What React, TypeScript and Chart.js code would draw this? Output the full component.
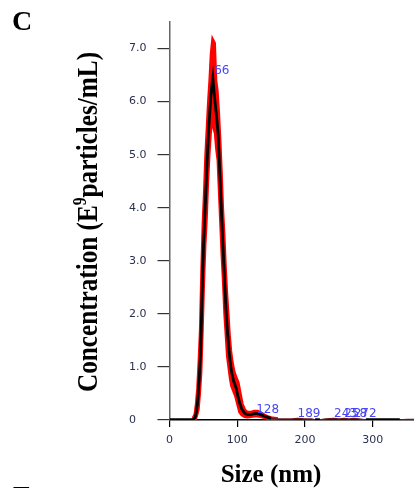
import React, { useEffect, useRef } from "react";
import { Chart, registerables } from "chart.js";

Chart.register(...registerables);

// ---- data ----
const meanSizes = [0, 5, 10, 15, 20, 25, 30, 35, 38, 40, 42, 44, 46, 48, 50, 52, 54, 56, 58, 60, 62, 64, 66, 68, 70, 72, 74, 76, 78, 80, 82, 84, 86, 88, 90, 92, 95, 98, 101, 104, 107, 111, 115, 120, 125, 130, 135, 140, 145, 150, 160, 170, 180, 189, 200, 210, 215, 222, 230, 243, 250, 258, 265, 272, 280, 290, 300, 310, 320, 330, 340, 350, 361];
const meanValues = [0, 0, 0, 0, 0, 0, 0, 0, 0.05, 0.18, 0.4, 0.8, 1.3, 2.3, 3.2, 3.8, 4.4, 5.0, 5.5, 5.9, 6.25, 6.45, 6.15, 5.9, 5.65, 5.35, 4.75, 4.15, 3.55, 3.0, 2.45, 1.95, 1.6, 1.3, 1.05, 0.88, 0.72, 0.62, 0.45, 0.3, 0.2, 0.13, 0.1, 0.1, 0.12, 0.12, 0.1, 0.07, 0.05, 0.03, 0.02, 0.02, 0.02, 0.03, 0.02, 0.02, 0, 0, 0.02, 0.03, 0.02, 0.03, 0.02, 0.03, 0.02, 0, 0, 0, 0, 0, 0, 0.01, 0.01];

const bandSizes = [35, 38, 40, 42, 44, 46, 48, 50, 52, 54, 56, 58, 60, 62, 64, 66, 68, 70, 72, 74, 76, 78, 80, 82, 84, 86, 88, 90, 92, 95, 98, 101, 104, 107, 111, 115, 120, 125, 130, 135, 140, 145, 150, 160];
const bandUpper = [0.03, 0.1, 0.3, 0.6, 1.1, 1.7, 2.8, 3.7, 4.3, 5.0, 5.5, 6.0, 6.4, 6.9, 7.15, 7.1, 6.4, 6.2, 5.8, 5.3, 4.7, 4.0, 3.5, 2.9, 2.4, 2.0, 1.6, 1.3, 1.1, 0.9, 0.8, 0.7, 0.5, 0.3, 0.18, 0.14, 0.14, 0.16, 0.16, 0.13, 0.09, 0.06, 0.04, 0.02];
const bandLower = [0, 0.02, 0.1, 0.2, 0.5, 0.9, 1.7, 2.6, 3.3, 3.8, 4.5, 5.0, 5.4, 5.7, 5.8, 5.5, 5.4, 5.1, 4.9, 4.3, 3.7, 3.1, 2.6, 2.0, 1.6, 1.2, 1.0, 0.8, 0.65, 0.55, 0.45, 0.3, 0.15, 0.1, 0.07, 0.06, 0.07, 0.08, 0.08, 0.07, 0.05, 0.03, 0.02, 0.01];

const peakSizes = [66, 128, 189, 243, 258, 272];
const peakLabelHeights = [6.52, 0.13, 0.06, 0.06, 0.06, 0.06];

const xTicks = [0, 100, 200, 300];
const yTicks = [0, 1, 2, 3, 4, 5, 6, 7];

const panelLetter = "C";
const nextPanelLetter = "E";
const xTitle = "Size (nm)";
const yTitleBefore = "Concentration (E";
const yTitleSup = "9";
const yTitleAfter = "particles/mL)";

const toPoints = (xs: number[], ys: number[]) => xs.map((x, i) => ({ x, y: ys[i] }));

const decorations = {
  id: "decorations",
  afterDraw(chart: any) {
    const ctx = chart.ctx as CanvasRenderingContext2D;
    const xs = chart.scales.x;
    const ys = chart.scales.y;
    ctx.save();
    // peak labels
    ctx.font = '12px "DejaVu Sans"';
    ctx.fillStyle = "#4646f5";
    ctx.textAlign = "left";
    ctx.textBaseline = "alphabetic";
    peakSizes.forEach((s, i) => {
      ctx.fillText(String(s), xs.getPixelForValue(s), ys.getPixelForValue(peakLabelHeights[i]));
    });

    // panel letters
    ctx.fillStyle = "#000";
    ctx.font = 'bold 28px "Liberation Serif"';
    ctx.fillText(panelLetter, 12, 30);
    ctx.fillText(nextPanelLetter, 13, 505);

    // x title
    ctx.font = 'bold 25px "Liberation Serif"';
    ctx.textAlign = "center";
    ctx.fillText(xTitle, 271, 482);

    // y title (rotated, with superscript)
    const fs = 25.2;
    const supFs = 15.5;
    ctx.textAlign = "left";
    ctx.font = `bold ${fs}px "Liberation Serif"`;
    const w1 = ctx.measureText(yTitleBefore).width;
    const w3 = ctx.measureText(yTitleAfter).width;
    ctx.font = `bold ${supFs}px "Liberation Serif"`;
    const w2 = ctx.measureText(yTitleSup).width;
    const total = w1 + w2 + w3;
    ctx.translate(97, 222);
    ctx.rotate(-Math.PI / 2);
    ctx.scale(1, 1.2);
    let cx = -total / 2;
    ctx.font = `bold ${fs}px "Liberation Serif"`;
    ctx.fillText(yTitleBefore, cx, 0);
    cx += w1;
    ctx.font = `bold ${supFs}px "Liberation Serif"`;
    ctx.fillText(yTitleSup, cx, -fs * 0.38);
    cx += w2;
    ctx.font = `bold ${fs}px "Liberation Serif"`;
    ctx.fillText(yTitleAfter, cx, 0);
    ctx.restore();
  },
};

export default function App() {
  const ref = useRef<HTMLCanvasElement | null>(null);
  useEffect(() => {
    if (!ref.current) return;
    const chart = new Chart(ref.current, {
      type: "line",
      data: {
        datasets: [
          {
            label: "mean",
            data: toPoints(meanSizes, meanValues),
            borderColor: "#000",
            borderWidth: 2.8,
            pointRadius: 0,
            tension: 0,
            fill: false,
            segment: {
              borderColor: (c: any) => {
                const a = c.p0.parsed.y, b = c.p1.parsed.y;
                if (a === 0 && b === 0) return "#000";
                if (a < 0.05 && b < 0.05 && c.p0.parsed.x > 140) return "#6a1a1a";
                return "#000";
              },
              borderWidth: (c: any) => {
                const a = c.p0.parsed.y, b = c.p1.parsed.y;
                if (a === 0 && b === 0) return 3.5;
                if (a < 0.05 && b < 0.05 && c.p0.parsed.x > 140) return 1.5;
                return 2.8;
              },
            },
          },
          {
            label: "upper",
            data: toPoints(bandSizes, bandUpper),
            borderColor: "#ff0000",
            backgroundColor: "#ff0000",
            borderWidth: 3.5,
            pointRadius: 0,
            tension: 0,
            fill: "+1",
          },
          {
            label: "lower",
            data: toPoints(bandSizes, bandLower),
            borderColor: "#ff0000",
            borderWidth: 3.5,
            pointRadius: 0,
            tension: 0,
            fill: false,
          },
        ],
      },
      options: {
        animation: false,
        responsive: false,
        maintainAspectRatio: false,
        layout: { padding: { left: 129, top: 22, right: 0, bottom: 38 } },
        plugins: { legend: { display: false }, tooltip: { enabled: false }, title: { display: false } },
        scales: {
          x: {
            type: "linear",
            min: 0,
            max: 361,
            afterBuildTicks: (s: any) => {
              s.ticks = xTicks.map((v) => ({ value: v }));
            },
            afterFit: (s: any) => {
              s.height = 30;
            },
            ticks: {
              includeBounds: false,
              font: { family: '"DejaVu Sans"', size: 11 },
              color: "#2a3050",
              padding: 7,
              maxRotation: 0,
              callback: (v: any) => String(v),
            },
            grid: { display: true, drawOnChartArea: false, drawTicks: true, tickLength: 7, color: "#000", lineWidth: 1.2 },
            border: { display: true, color: "#000", width: 1.5 },
          },
          y: {
            type: "linear",
            min: 0,
            max: 7.5,
            afterBuildTicks: (s: any) => {
              s.ticks = yTicks.map((v) => ({ value: v }));
            },
            afterFit: (s: any) => {
              s.width = 40.5;
            },
            ticks: {
              includeBounds: false,
              crossAlign: "far",
              font: { family: '"DejaVu Sans"', size: 11 },
              color: "#2a3050",
              padding: 9,
              callback: (v: any) => (v === 0 ? "0" : Number(v).toFixed(1)),
            },
            grid: { display: true, drawOnChartArea: false, drawTicks: true, tickLength: 12, color: "#333", lineWidth: 1.2 },
            border: { display: true, color: "#666", width: 1.5 },
          },
        },
      },
      plugins: [decorations],
    } as any);
    return () => chart.destroy();
  }, []);
  return (
    <div style={{ position: "fixed", left: 0, top: 0, width: 414, height: 488, background: "#fff" }}>
      <canvas ref={ref} width={414} height={488} style={{ display: "block", width: 414, height: 488 }} />
    </div>
  );
}
